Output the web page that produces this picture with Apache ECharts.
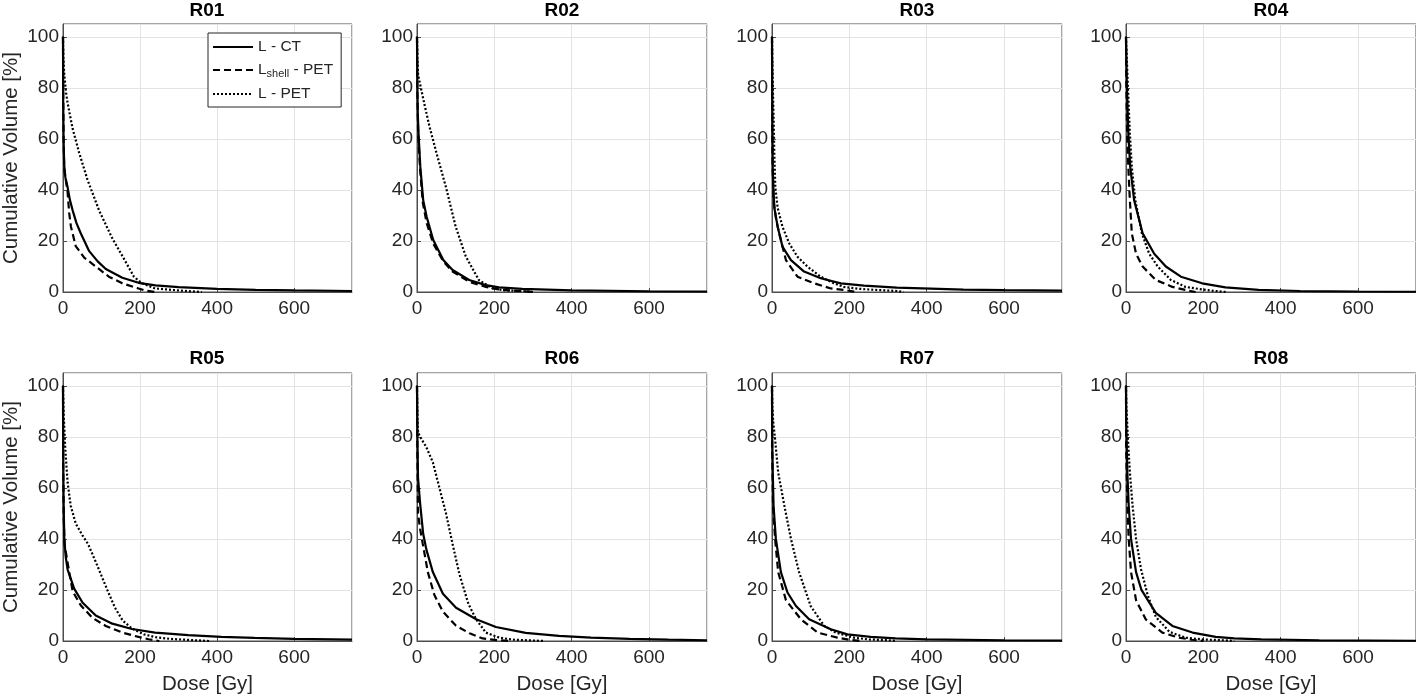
<!DOCTYPE html>
<html>
<head>
<meta charset="utf-8">
<script src="https://cdn.jsdelivr.net/npm/echarts@6/dist/echarts.min.js"></script>
<style>html,body{margin:0;padding:0;background:#fff;}#c{width:1416px;height:700px;}</style>
</head>
<body>
<div id="c"></div>
<script>
// ---- tick labels / categories ----
const PANELS = ['R01','R02','R03','R04','R05','R06','R07','R08'];
const SERIES_NAMES = ['L - CT','L_shell - PET','L - PET'];
const X_TICKS = [0,200,400,600];
const Y_TICKS = [0,20,40,60,80,100];

// ---- data: [dose Gy, cumulative volume %] ----
const R01_CT = [[0,100],[0.5,75],[1.5,60],[3,50],[6,45],[12,41],[18,36],[25,32],[35,27],[46,23],[68,16],[90,12],[111,9],[154,5.6],[196,3.6],[240,2.6],[300,1.9],[400,1.2],[500,0.8],[600,0.6],[750,0.4]];
const R01_SHELL = [[0,100],[0.7,75],[1.5,60],[3.4,48],[12,39],[16,31],[20.6,25.6],[33,18],[55,13.5],[85,10],[119,6],[154,3.4],[196,1.4],[214,0.5],[240,0]];
const R01_PET = [[0,100],[1,92],[3.4,85],[8,78],[12,74],[25,64],[42,54.5],[63.5,44],[93.5,32],[128,21],[162,12],[184,6],[205,3.4],[239,1.4],[300,0.6],[360,0]];

const R02_CT = [[0,100],[1,80],[2,70],[4,62],[8.6,49],[16,36],[25,29.5],[42,20.4],[68,12.5],[92,8.6],[135,4.7],[178,2.7],[212,1.8],[272,1.2],[400,0.6],[600,0.3],[750,0.2]];
const R02_SHELL = [[0,100],[1,78],[3,62],[8,48],[15,35],[25,27],[42,19],[68,12],[92,8],[135,4],[178,2],[212,1],[250,0.5],[300,0]];
const R02_PET = [[0,100],[1,92],[3,85],[10,80],[20,73],[32,65],[53,53],[75,41],[100,25.6],[126,14],[160,4.7],[195,1.4],[229,0.6],[280,0.3],[300,0]];

const R03_CT = [[0,100],[0.5,80],[1,62],[2,48],[3.4,41],[6,33],[14.6,25.6],[27,17.8],[49,12.5],[83,8],[126,5.4],[178,3.4],[238,2.5],[323,1.7],[410,1.3],[495,0.9],[600,0.7],[750,0.5]];
const R03_SHELL = [[0,100],[0.5,75],[1.5,50],[4,36],[10,29],[17,24],[36,12.5],[66,6],[109,3.4],[152,1.4],[186,0.8],[220,0]];
const R03_PET = [[0,100],[1,90],[2.5,78],[4.3,67],[6,54],[8.6,41],[14.6,33],[27,25.6],[44.6,19],[66,13.8],[92,9.9],[126,6],[160,3.4],[186,2],[220,1.3],[270,0.8],[323,0.4],[340,0]];

const R04_CT = [[0,100],[1,90],[2,82],[6,62],[11,49],[21,36],[43,23],[73,15],[103,10],[142,6],[197,3.4],[257,1.8],[343,0.8],[450,0.4],[600,0.2],[750,0.1]];
const R04_SHELL = [[0,100],[1,80],[3,62],[6,49],[10,36],[15,23],[26,15],[43,10],[77,4.7],[120,2],[154,0.8],[180,0]];
const R04_PET = [[0,100],[2,92],[5,80],[10,62],[15,49],[24,36],[41,23],[60,15],[82,10],[116,4.7],[154,2],[197,1],[230,0.4],[260,0]];

const R05_CT = [[0,100],[0.5,75],[1.5,55],[3.4,40],[7,33],[12,28],[29,20.5],[51,15],[85,10],[128,6.8],[179,4.7],[239,3.3],[325,2.3],[411,1.6],[497,1.2],[600,0.8],[750,0.5]];
const R05_SHELL = [[0,100],[0.5,70],[2,48],[4,38],[12,30.6],[25,19.5],[46,14],[76,9.1],[111,5.9],[154,3.3],[196,1.6],[222,0.7],[250,0]];
const R05_PET = [[0,100],[2,88],[6,75],[12,62],[20,53],[33,46],[50,41.5],[65,38],[85,31],[100,25.5],[115,20],[135,13],[155,8],[180,4.8],[210,2.6],[240,1.5],[280,0.8],[330,0.4],[380,0]];

const R06_CT = [[0,100],[1,80],[2.6,64],[8,54],[16,42],[24,36],[41,27],[67,18.5],[101,13],[153,8.5],[204,5.5],[281,3.2],[367,2],[450,1.3],[550,0.8],[650,0.5],[750,0.3]];
const R06_SHELL = [[0,100],[1,75],[2.6,50],[8,44],[15,38],[28,27],[45,18],[67,11.5],[101,6],[136,3],[170,1],[210,0.3],[240,0]];
const R06_PET = [[0,100],[1.5,86],[3,81.5],[12,79],[24,76],[41,70],[58,60],[75,50],[92,38],[110,26],[133,14.5],[153,8.5],[178,3.3],[213,1.3],[250,0.5],[300,0.2],[330,0]];

const R07_CT = [[0,100],[0.5,80],[2,66],[4,53],[10,40],[23,27],[40,19],[62,13.7],[96,8.5],[152,4.6],[195,2.6],[255,1.6],[320,1],[400,0.6],[600,0.3],[750,0.2]];
const R07_SHELL = [[0,100],[0.5,75],[2.6,53],[8,40],[16,27],[36,16],[75,8.5],[118,3.3],[169,1.3],[200,0.5],[230,0]];
const R07_PET = [[0,100],[1,92],[3,86],[8,79],[16,66],[32,53],[49,40],[70,27],[100,13.7],[135,5.9],[165,3.3],[212,1.3],[250,0.6],[300,0.3],[320,0]];

const R08_CT = [[0,100],[0.5,85],[3.5,66],[7,53],[13,40],[26,27],[40,20],[77,11],[120,5.9],[172,3.3],[232,1.6],[280,1],[350,0.6],[500,0.3],[750,0.1]];
const R08_SHELL = [[0,100],[0.5,75],[3.5,53],[7,40],[13,27],[26,16],[51,8.5],[94,3.3],[137,1.3],[170,0.5],[200,0]];
const R08_PET = [[0,100],[1,92],[5,79],[10,66],[17,53],[26,40],[39,28],[56,18],[77,9.5],[112,3.6],[154,1.3],[200,0.6],[250,0.3],[280,0]];

const PANEL_DATA = [
  [R01_CT,R01_SHELL,R01_PET],[R02_CT,R02_SHELL,R02_PET],[R03_CT,R03_SHELL,R03_PET],[R04_CT,R04_SHELL,R04_PET],
  [R05_CT,R05_SHELL,R05_PET],[R06_CT,R06_SHELL,R06_PET],[R07_CT,R07_SHELL,R07_PET],[R08_CT,R08_SHELL,R08_PET]
];

// ---- layout ----
const FONT = 'Liberation Sans, Arial, Helvetica, sans-serif';
const TXT = '#262626';
const LEFTS = [62, 417, 772, 1126];
const TOPS = [24, 373];
const GW = 290, GH = 268;
const TITLE_TOPS = [1, 349.5];
const LINE_TYPES = ['solid', [7,4], [2,2]];

const grids = [], xAxes = [], yAxes = [], titles = [], series = [];
PANELS.forEach((name, i) => {
  const col = i % 4, row = Math.floor(i / 4);
  grids.push({left: LEFTS[col], top: TOPS[row], width: GW, height: GH,
    show: true, borderColor: '#4d4d4d', borderWidth: 1, backgroundColor: '#fff', containLabel: false});
  titles.push({text: name, left: LEFTS[col] + GW/2, top: TITLE_TOPS[row], textAlign: 'center', padding: 0,
    textStyle: {fontFamily: FONT, fontSize: 19, fontWeight: 'bold', color: '#000'}});
  xAxes.push({type: 'value', gridIndex: i, min: 0, max: 750, interval: 200,
    name: row === 1 ? 'Dose [Gy]' : '', nameLocation: 'middle', nameGap: 33,
    nameTextStyle: {fontFamily: FONT, fontSize: 20.5, color: TXT},
    axisLine: {show: true, lineStyle: {color: '#4d4d4d', width: 1}},
    axisTick: {show: true, inside: true, length: 4, lineStyle: {color: '#4d4d4d'}},
    axisLabel: {fontFamily: FONT, fontSize: 19, color: TXT, margin: 7, showMaxLabel: false,
      formatter: v => X_TICKS.indexOf(v) >= 0 ? String(v) : ''},
    splitLine: {show: true, lineStyle: {color: '#e3e3e3', width: 1}}});
  yAxes.push({type: 'value', gridIndex: i, min: 0, max: 105, interval: 20,
    name: col === 0 ? 'Cumulative Volume [%]' : '', nameLocation: 'middle', nameGap: 41, nameRotate: 90,
    nameTextStyle: {fontFamily: FONT, fontSize: 20.5, color: TXT},
    axisLine: {show: true, lineStyle: {color: '#4d4d4d', width: 1}},
    axisTick: {show: true, inside: true, length: 4, lineStyle: {color: '#4d4d4d'}},
    axisLabel: {fontFamily: FONT, fontSize: 19, color: TXT, margin: 4, showMaxLabel: false,
      formatter: v => Y_TICKS.indexOf(v) >= 0 ? String(v) : ''},
    splitLine: {show: true, lineStyle: {color: '#e3e3e3', width: 1}}});
  PANEL_DATA[i].forEach((d, k) => {
    series.push({type: 'line', name: SERIES_NAMES[k], xAxisIndex: i, yAxisIndex: i, data: d,
      symbol: 'none', smooth: false, animation: false, silent: true,
      lineStyle: {color: '#000', width: 2.2, type: LINE_TYPES[k]}, itemStyle: {color: '#000'}});
  });
});

const chart = echarts.init(document.getElementById('c'), null, {renderer: 'canvas'});
chart.setOption({
  animation: false,
  backgroundColor: '#fff',
  title: titles,
  grid: grids,
  xAxis: xAxes,
  yAxis: yAxes,
  legend: {
    data: SERIES_NAMES, orient: 'vertical', left: 208, top: 33,
    padding: [6, 8, 5, 4], itemGap: 7, itemWidth: 40, itemHeight: 14,
    backgroundColor: '#fff', borderColor: '#262626', borderWidth: 1, borderRadius: 0,
    selectedMode: false,
    itemStyle: {color: 'rgba(0,0,0,0)', opacity: 0, borderWidth: 0},
    formatter: n => n === 'L_shell - PET' ? '{n|L}{sub|shell}{n| - PET}' : '{n|' + n + '}',
    textStyle: {fontFamily: FONT, fontSize: 15.5, color: TXT,
      rich: {n: {fontFamily: FONT, fontSize: 15.5, color: TXT, lineHeight: 18},
             sub: {fontFamily: FONT, fontSize: 11, color: TXT, lineHeight: 4, verticalAlign: 'bottom'}}}
  },
  series: series
});
</script>
</body>
</html>
